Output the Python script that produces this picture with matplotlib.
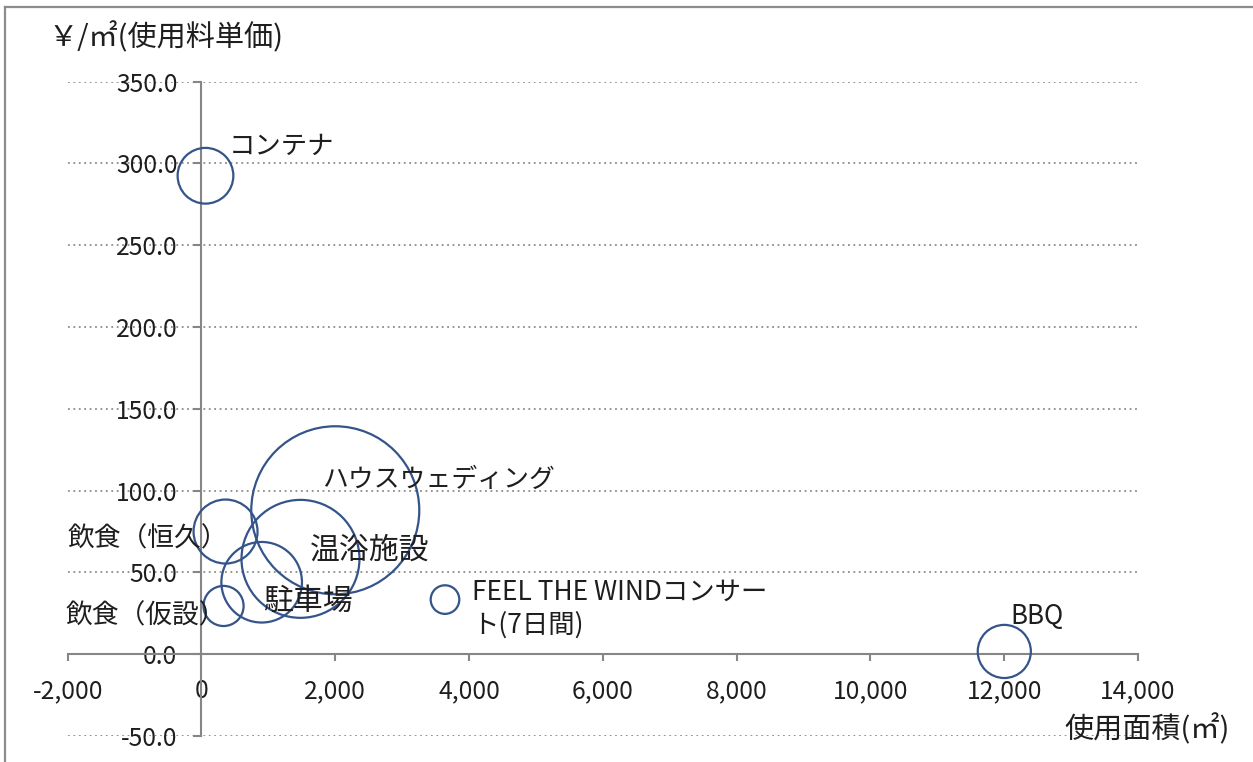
import matplotlib
matplotlib.use("Agg")
import matplotlib.pyplot as plt
from matplotlib.lines import Line2D
from matplotlib.ticker import FuncFormatter, MultipleLocator
import numpy as np

plt.rcParams['font.family'] = ['Noto Sans CJK JP', 'DejaVu Sans']

# データ
names = ["コンテナ", "ハウスウェディング", "温浴施設", "駐車場",
         "飲食（恒久）", "飲食（仮設）", "FEEL THE WINDコンサー\nト(7日間)", "BBQ"]
area = [60, 2000, 1480, 900, 360, 330, 3640, 12000]          # 使用面積(㎡)
unit_price = [292.5, 88.0, 58.3, 44.0, 75.0, 29.5, 33.4, 1.7]  # ￥/㎡
bubble = [11.0, 100.0, 49.3, 23.0, 14.5, 5.7, 2.9, 10.0]       # バブルサイズ

# ラベル位置 (offset points, ha, fontsize)
label_pos = [((17, 21.5), "left", 19), ((-9.4, 22.5), "left", 18.6),
             ((6.5, 6.0), "left", 21.5), ((1.4, -14.0), "left", 21.5),
             ((2.0, -5.0), "right", 19.3), ((2.0, -7.2), "right", 19.3),
             ((19.4, -6.5), "left", 19), ((4.3, 25.0), "left", 18.6)]

axis_col = "#868686"
bub_col = "#34548a"
txt_col = "#1e1e1e"
fs_tick = 17.8
fs_title = 21

fig = plt.figure(figsize=(12.53, 7.62), dpi=100)
ax = fig.add_axes([0.054, 0.0341, 0.9083 - 0.054, 0.8928 - 0.0341])

r_max = 84 * 0.72  # pt
sizes = [(2 * r_max * np.sqrt(b / max(bubble))) ** 2 for b in bubble]
ax.scatter(area, unit_price, s=sizes, facecolors="none", edgecolors=bub_col,
           linewidths=1.6, zorder=3, clip_on=False)

for x, y, n, (off, ha, fs) in zip(area, unit_price, names, label_pos):
    ax.annotate(n, (x, y), xytext=off, textcoords="offset points", ha=ha,
                va="center", fontsize=fs, color=txt_col, linespacing=1.25, zorder=4)

ax.set_xlim(-2000, 14000)
ax.set_ylim(-50, 350)
ax.xaxis.set_major_locator(MultipleLocator(2000))
ax.yaxis.set_major_locator(MultipleLocator(50))
ax.xaxis.set_major_formatter(FuncFormatter(lambda v, p: f"{v:,.0f}"))
ax.yaxis.set_major_formatter(FuncFormatter(lambda v, p: f"{v:.1f}"))

for s in ["top", "right"]:
    ax.spines[s].set_visible(False)
ax.spines["left"].set_position(("data", 0))
ax.spines["bottom"].set_position(("data", 0))
for s in ["left", "bottom"]:
    ax.spines[s].set_color(axis_col)
    ax.spines[s].set_linewidth(1.5)

ax.tick_params(axis="y", direction="out", length=5.8, width=1.5, color=axis_col,
               labelsize=fs_tick, labelcolor=txt_col, pad=11.5)
ax.tick_params(axis="x", direction="out", length=5, width=1.5, color=axis_col,
               labelsize=fs_tick, labelcolor=txt_col, pad=12)

ax.grid(axis="y", color="#8c8c8c", linestyle=(0, (1, 2)), linewidth=1.3, zorder=0)
ax.set_axisbelow(True)

fig.text(49 / 1253, 1 - 38 / 762, "￥/㎡(使用料単価)", fontsize=fs_title, color=txt_col,
         ha="left", va="center")
fig.text(1230 / 1253, 1 - 730 / 762, "使用面積(㎡)", fontsize=fs_title, color=txt_col,
         ha="right", va="center")

# 外枠
fig.add_artist(Line2D([5 / 1253, 1], [1 - 7 / 762, 1 - 7 / 762], color="#8c8c8c", lw=1.6))
fig.add_artist(Line2D([5 / 1253, 5 / 1253], [0, 1 - 7 / 762], color="#8c8c8c", lw=1.6))

fig.savefig("out.png", dpi=100)
